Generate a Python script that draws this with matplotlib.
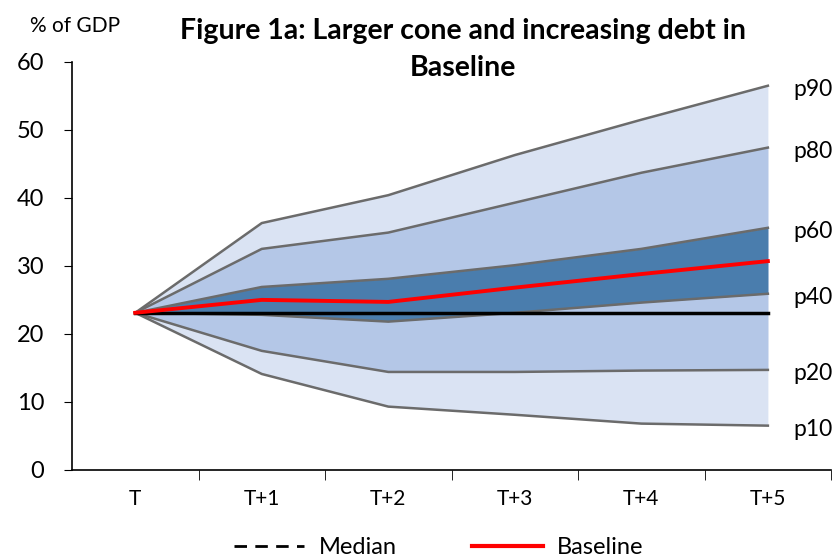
import matplotlib
matplotlib.use("Agg")
import matplotlib.pyplot as plt
from matplotlib.lines import Line2D

categories = ["T", "T+1", "T+2", "T+3", "T+4", "T+5"]
p10 = [23.1, 14.1, 9.3, 8.1, 6.8, 6.5]
p20 = [23.1, 17.5, 14.4, 14.4, 14.6, 14.7]
p40 = [23.1, 22.8, 21.8, 23.1, 24.6, 25.9]
p60 = [23.1, 26.9, 28.1, 30.1, 32.5, 35.6]
p80 = [23.1, 32.5, 34.9, 39.3, 43.7, 47.4]
p90 = [23.1, 36.3, 40.4, 46.3, 51.5, 56.5]
median = [23.1, 23.1, 23.1, 23.1, 23.1, 23.1]
baseline = [23.1, 25.0, 24.7, 26.8, 28.8, 30.7]
yticks = [0, 10, 20, 30, 40, 50, 60]

plt.rcParams['font.family'] = ['Lato', 'DejaVu Sans']

fig = plt.figure(figsize=(8.37, 5.58), dpi=100)
ax = fig.add_axes([0.086, 0.158, 0.907, 0.731])
x = list(range(len(categories)))

light = "#dae3f3"
mid = "#b4c7e7"
dark = "#4a7dad"
grey = "#6b6b6b"

ax.fill_between(x, p10, p90, color=light, lw=0, zorder=1)
ax.fill_between(x, p20, p80, color=mid, lw=0, zorder=2)
ax.fill_between(x, p40, p60, color=dark, lw=0, zorder=3)
for s in [p10, p20, p40, p60, p80, p90]:
    ax.plot(x, s, color=grey, lw=1.8, zorder=4)
ax.plot(x, median, color="black", lw=2.5, zorder=5)
ax.plot(x, baseline, color="#ff0000", lw=2.8, zorder=6)

labels = ["p90", "p80", "p60", "p40", "p20", "p10"]
for lab, s in zip(labels, [p90, p80, p60, p40, p20, p10]):
    ax.text(5.2, s[-1] - 0.6, lab, fontsize=16.5, va="center", ha="left", clip_on=False)

ax.set_xlim(-0.5, 5.5)
ax.set_ylim(0, 60)
ax.set_yticks(yticks)
ax.set_yticklabels([str(v) for v in yticks], fontsize=17)
ax.set_xticks(x)
ax.set_xticklabels(categories, fontsize=15)
ax.tick_params(axis="x", length=0, pad=14)
ax.set_xticks([i + 0.5 for i in range(len(categories))], minor=True)
ax.tick_params(axis="x", which="minor", length=7, direction="out", color="black")
ax.tick_params(axis="y", length=6, direction="out", pad=14)
ax.spines["top"].set_visible(False)
ax.spines["right"].set_visible(False)
for sp in ["left", "bottom"]:
    ax.spines[sp].set_linewidth(1.2)

fig.text(0.036, 0.953, "% of GDP", fontsize=15, va="center", ha="left")
fig.text(0.553, 0.945, "Figure 1a: Larger cone and increasing debt in", fontsize=20.5,
         fontweight="bold", va="center", ha="center")
fig.text(0.553, 0.878, "Baseline", fontsize=20.5, fontweight="bold", va="center", ha="center")

handles = [Line2D([0], [0], color="black", lw=2, ls=(0, (4.5, 3))),
           Line2D([0], [0], color="#ff0000", lw=3)]
fig.legend(handles, ["Median", "Baseline"], loc="center", bbox_to_anchor=(0.524, 0.018),
           ncol=2, frameon=False, fontsize=17, handlelength=3.0, columnspacing=3.2,
           handletextpad=0.6)

fig.savefig("out.png", dpi=100)
